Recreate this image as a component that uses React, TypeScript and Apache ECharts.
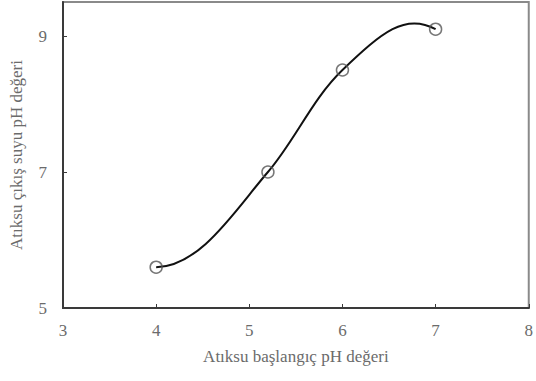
import React, { useEffect, useRef } from "react";
import * as echarts from "echarts";

const xValues = [4, 5.2, 6, 7];
const yValues = [5.6, 7.0, 8.5, 9.1];
const xTitle = "Atıksu başlangıç pH değeri";
const yTitle = "Atıksu çıkış suyu pH değeri";

// smoothing style constants (spreadsheet-like smoothed line)
const START_K = 4.5;
const END_K = 2.6;
const HANDLES: number[][] = [
  [0.3, 0.34],
  [0.33, 0.33],
  [0.54, 0.34],
];

function buildPath(p: number[][]): string {
  const n = p.length;
  const q = p.map(([x, y]) => [x, -y]);
  const chordAng = (i: number) => Math.atan2(q[i + 1][1] - q[i][1], q[i + 1][0] - q[i][0]);
  const chordLen = (i: number) => Math.hypot(q[i + 1][1] - q[i][1], q[i + 1][0] - q[i][0]);
  const ang: number[] = new Array(n).fill(0);
  for (let i = 1; i < n - 1; i++) {
    const h0 = q[i][0] - q[i - 1][0];
    const h1 = q[i + 1][0] - q[i][0];
    const d0 = (q[i][1] - q[i - 1][1]) / h0;
    const d1 = (q[i + 1][1] - q[i][1]) / h1;
    ang[i] = Math.atan((h1 * d0 + h0 * d1) / (h0 + h1));
  }
  ang[0] = chordAng(0) - START_K * (ang[1] - chordAng(0));
  ang[n - 1] = chordAng(n - 2) - END_K * (ang[n - 2] - chordAng(n - 2));
  let d = `M${p[0][0]},${p[0][1]}`;
  for (let i = 0; i < n - 1; i++) {
    const L = chordLen(i);
    const [f0, f1] = HANDLES[i] || [1 / 3, 1 / 3];
    const c1 = [q[i][0] + Math.cos(ang[i]) * L * f0, q[i][1] + Math.sin(ang[i]) * L * f0];
    const c2 = [q[i + 1][0] - Math.cos(ang[i + 1]) * L * f1, q[i + 1][1] - Math.sin(ang[i + 1]) * L * f1];
    d += ` C${c1[0]},${-c1[1]} ${c2[0]},${-c2[1]} ${p[i + 1][0]},${p[i + 1][1]}`;
  }
  return d;
}

export default function App() {
  const ref = useRef<HTMLDivElement>(null);
  useEffect(() => {
    if (!ref.current) return;
    const chart = echarts.init(ref.current, null, { renderer: "svg" });
    const font = "Liberation Serif";
    const pts = xValues.map((x, i) => [x, yValues[i]]);
    chart.setOption({
      animation: false,
      backgroundColor: "#ffffff",
      grid: {
        left: 63,
        right: 2,
        top: 2,
        bottom: 73,
        show: true,
        borderColor: "#8a8a8a",
        borderWidth: 2,
      },
      xAxis: {
        type: "value",
        min: 3,
        max: 8,
        interval: 1,
        name: xTitle,
        nameLocation: "middle",
        nameGap: 40,
        nameTextStyle: { fontFamily: font, fontSize: 17, color: "#6b6b6b" },
        axisLine: { show: true, onZero: false, lineStyle: { color: "#3a3a3a", width: 2 } },
        axisTick: { show: true, inside: true, length: 4, lineStyle: { color: "#3a3a3a", width: 1 } },
        axisLabel: { fontFamily: font, fontSize: 17, color: "#6b6b6b", margin: 14 },
        splitLine: { show: false },
      },
      yAxis: {
        type: "value",
        min: 5,
        max: 9.5,
        interval: 2,
        name: yTitle,
        nameLocation: "middle",
        nameGap: 38,
        nameTextStyle: { fontFamily: font, fontSize: 17, color: "#6b6b6b" },
        axisLine: { show: true, onZero: false, lineStyle: { color: "#3a3a3a", width: 2 } },
        axisTick: { show: true, inside: true, length: 4, lineStyle: { color: "#3a3a3a", width: 1 } },
        axisLabel: { fontFamily: font, fontSize: 17, color: "#6b6b6b", margin: 16, showMaxLabel: false },
        splitLine: { show: false },
      },
      series: [
        {
          type: "custom",
          data: pts,
          encode: { x: 0, y: 1 },
          z: 2,
          renderItem: (params: any, api: any) => {
            if (params.dataIndex !== 0) return null;
            const px = pts.map((v) => api.coord(v));
            return {
              type: "path",
              shape: { pathData: buildPath(px) },
              style: { stroke: "#111111", fill: "none", lineWidth: 2 },
            };
          },
        },
        {
          type: "scatter",
          data: pts,
          z: 3,
          symbol: "circle",
          symbolSize: 12,
          itemStyle: { color: "transparent", borderColor: "#555555", borderWidth: 1.5 },
        },
      ],
    });
    return () => chart.dispose();
  }, []);
  return <div ref={ref} style={{ width: 536, height: 381, position: "absolute", left: 0, top: 0 }} />;
}
